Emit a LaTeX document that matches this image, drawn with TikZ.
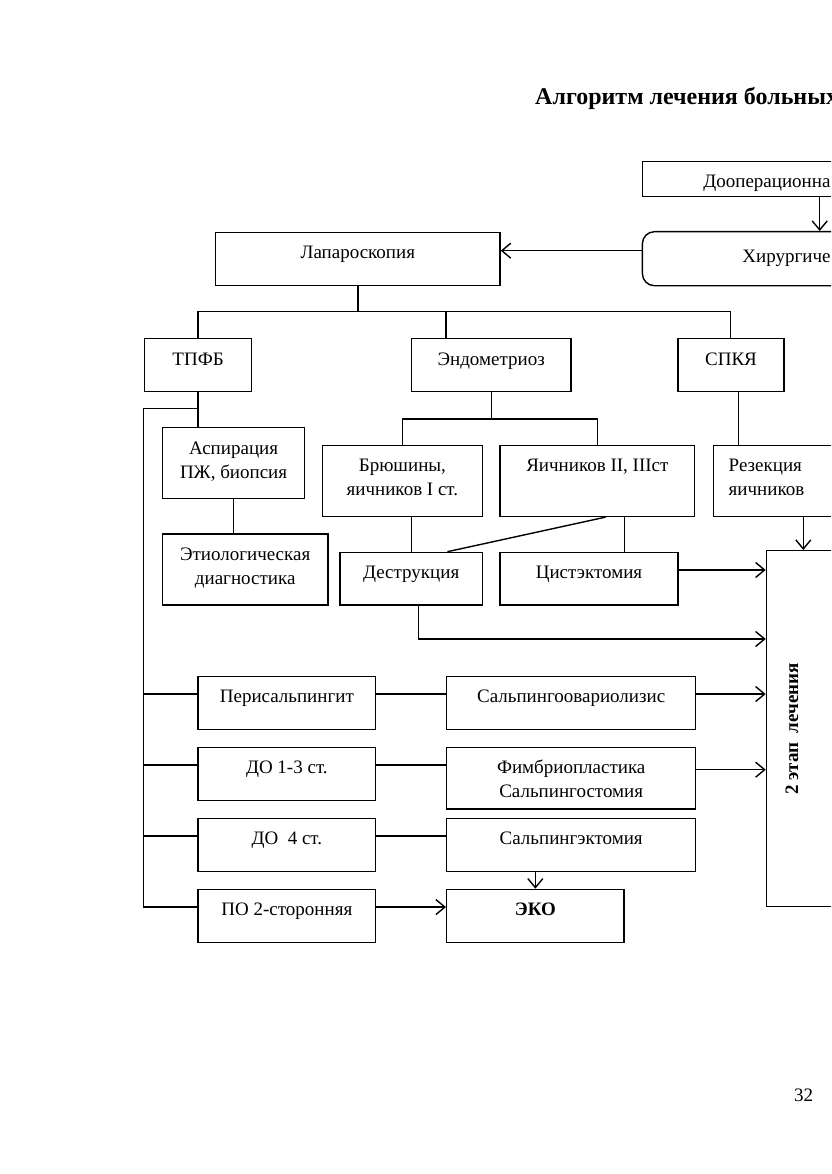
\documentclass[tikz,border=0pt]{standalone}
\usepackage{fontspec}
\setmainfont{Liberation Serif}
\usetikzlibrary{arrows.meta,calc}
\newcommand\bxfont{\fontsize{19}{24}\selectfont}
\newcommand\ml[1]{\begin{tabular}[t]{@{}c@{}}#1\end{tabular}}
\newcommand\mll[1]{\begin{tabular}[t]{@{}l@{}}#1\end{tabular}}
\begin{document}
\begin{tikzpicture}[x=1pt,y=-1pt,
  bx/.style={draw, line width=1.4pt, inner sep=0pt, anchor=north west, font=\bxfont, text height=26.5pt},
  ln/.style={line width=1.4pt},
  arr/.style={line width=1.4pt, -{Straight Barb[length=9pt,width=15pt]}},
]
\useasboundingbox (0,0) rectangle (831,1174);
\fill[white] (0,0) rectangle (831,1174);
\clip (0,0) rectangle (831,1174);

% title and page number
\node[anchor=base west, inner sep=0pt, font=\bfseries\fontsize{24}{27}\selectfont] (title) at (535,105) {Алгоритм лечения больных};
\node[inner sep=0pt, font=\bxfont] (pnum) at (803.5,1095) {32};

% top row
\node[bx, minimum width=300pt, minimum height=35pt, text height=26.6pt, text depth=8.4pt] (dooper) at (641.7,160.7) {\makebox[178pt][l]{Дооперационна}};
\node[bx, rounded corners=12pt, minimum width=300pt, minimum height=54pt, text height=30.7pt, text depth=23.3pt] (hir) at (641.7,231) {\makebox[100pt][l]{Хирургиче}};
\node[bx, minimum width=284.3pt, minimum height=53.3pt, text depth=26.8pt] (lap) at (215,231.7) {Лапароскопия};

% second row
\node[bx, minimum width=106.7pt, minimum height=53pt, text depth=26.5pt] (tpfb) at (144,338) {ТПФБ};
\node[bx, minimum width=159.6pt, minimum height=53pt, text depth=26.5pt] (endo) at (410.7,338) {Эндометриоз};
\node[bx, minimum width=106pt, minimum height=53pt, text depth=26.5pt] (spkya) at (677.3,338) {СПКЯ};

% third row
\node[bx, minimum width=142.3pt, minimum height=71pt, text depth=44.5pt] (asp) at (161.7,427) {\ml{Аспирация\\ПЖ, биопсия}};
\node[bx, minimum width=160pt, minimum height=71pt, text depth=44.5pt] (bru) at (321.7,444.7) {\ml{Брюшины,\\яичников I ст.}};
\node[bx, minimum width=194.7pt, minimum height=71pt, text depth=44.5pt] (yai) at (499.3,444.7) {Яичников II, IIIст};
\node[bx, minimum width=200pt, minimum height=71pt, text depth=44.5pt] (rez) at (712.7,444.7) {\makebox[169.4pt][l]{\mll{Резекция\\яичников}}};

% fourth row
\node[bx, minimum width=165.6pt, minimum height=71pt, text depth=44.5pt] (etio) at (161.7,533.3) {\ml{Этиологическая\\диагностика}};
\node[bx, minimum width=142.4pt, minimum height=52.6pt, text depth=26.1pt] (destr) at (339.3,551.7) {Деструкция};
\node[bx, minimum width=178pt, minimum height=52.6pt, text depth=26.1pt] (cist) at (499.3,551.7) {Цистэктомия};
\node[draw, line width=1.4pt, inner sep=0pt, anchor=north west, minimum width=200pt, minimum height=356pt] (etap2) at (765.7,550) {};
\node[rotate=90, inner sep=0pt, font=\bfseries\bxfont] (etap2t) at (792,729) {2 этап~~лечения};

% lower rows
\node[bx, minimum width=177.7pt, minimum height=53.3pt, text depth=26.8pt] (peri) at (197.3,675.7) {Перисальпингит};
\node[bx, minimum width=177.7pt, minimum height=53.3pt, text depth=26.8pt] (do13) at (197.3,746.7) {ДО 1-3 ст.};
\node[bx, minimum width=177.7pt, minimum height=53pt, text depth=26.5pt] (do4) at (197.3,817.7) {ДО~~4 ст.};
\node[bx, minimum width=177.7pt, minimum height=53.3pt, text depth=26.8pt] (po) at (197.3,888.7) {ПО 2-сторонняя};
\node[bx, minimum width=249pt, minimum height=53.3pt, text depth=26.8pt] (salpov) at (446,675.7) {Сальпингоовариолизис};
\node[bx, minimum width=249pt, minimum height=61.6pt, text depth=35.1pt, text height=25.5pt] (fimb) at (446,746.7) {\ml{Фимбриопластика\\Сальпингостомия}};
\node[bx, minimum width=249pt, minimum height=53pt, text depth=26.5pt] (salpekt) at (446,817.7) {Сальпингэктомия};
\node[bx, minimum width=177.3pt, minimum height=53.3pt, text depth=26.8pt, font=\bfseries\bxfont] (eko) at (446,888.7) {ЭКО};

% junction coordinates
\coordinate (busy) at (0,311.7);
\coordinate (lb) at (143.3,408.7);
\coordinate (r639) at (0,639);

% connectors
\draw[arr] ([xshift=178pt]dooper.south west) -- ([xshift=178pt]hir.north west);
\draw[arr] ([yshift=8pt]hir.west) coordinate (h1) -- (h1 -| lap.east);
\draw[ln] (lap.south) -- (lap.south |- busy);
\draw[ln] (tpfb.north) -- (tpfb.north |- busy) -- ([xshift=-0.3pt]spkya.north |- busy) -- ([xshift=-0.3pt]spkya.north);
\draw[ln] ([xshift=35.3pt]endo.north west) -- ([xshift=35.3pt]endo.north west |- busy);

\draw[ln] (tpfb.south) -- (tpfb.south |- asp.north);
\draw[ln] (tpfb.south |- lb) -- (lb) |- ([yshift=9pt]po.west);
\draw[ln] ([yshift=9pt]peri.west) coordinate (p1) -- (p1 -| lb);
\draw[ln] ([yshift=9pt]do13.west) coordinate (p2) -- (p2 -| lb);
\draw[ln] ([yshift=9pt]do4.west) coordinate (p3) -- (p3 -| lb);
\draw[ln] (asp.south) -- (asp.south |- etio.north);

\draw[ln] (endo.south) -- ++(0,26.7) coordinate (eb);
\draw[ln] (bru.north) |- (eb) -| (yai.north);
\draw[ln] (bru.south -| destr.north) -- (destr.north);
\draw[ln] ([xshift=8.3pt]yai.south) -- ([xshift=36.2pt]destr.north);
\draw[ln] ([xshift=26.9pt]yai.south) coordinate (y2) -- (y2 |- cist.north);
\draw[ln] ([xshift=7.4pt]spkya.south) coordinate (s2) -- (s2 |- rez.north);
\draw[arr] ([xshift=90.6pt]rez.south west) coordinate (r2) -- (r2 |- etap2.north);

\draw[arr] ([yshift=8.7pt]cist.east) coordinate (c1) -- (c1 -| etap2.west);
\draw[arr] ([xshift=7pt]destr.south) |- (etap2.west |- r639);

\draw[ln] ([yshift=9pt]peri.east) coordinate (q1) -- (q1 -| salpov.west);
\draw[ln] ([yshift=9pt]do13.east) coordinate (q2) -- (q2 -| fimb.west);
\draw[ln] ([yshift=9pt]do4.east) coordinate (q3) -- (q3 -| salpekt.west);
\draw[arr] ([yshift=9pt]po.east) coordinate (q4) -- (q4 -| eko.west);

\draw[arr] ([yshift=9pt]salpov.east) coordinate (a1) -- (a1 -| etap2.west);
\draw[arr] ([yshift=8.5pt]fimb.east) coordinate (a2) -- (a2 -| etap2.west);
\draw[arr] (salpekt.south -| eko.north) -- (eko.north);
\end{tikzpicture}
\end{document}
